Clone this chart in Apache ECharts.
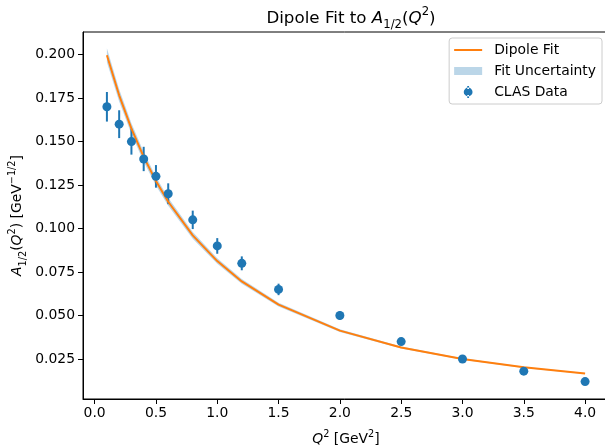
<!DOCTYPE html>
<html>
<head>
<meta charset="utf-8">
<script src="https://cdn.jsdelivr.net/npm/echarts@6/dist/echarts.min.js"></script>
<style>html,body{margin:0;padding:0;background:#fff;}#chart{width:605px;height:448px;}</style>
</head>
<body>
<div id="chart"></div>
<script>
// Q^2 values (GeV^2)
const q2 = [0.1, 0.2, 0.3, 0.4, 0.5, 0.6, 0.8, 1.0, 1.2, 1.5, 2.0, 2.5, 3.0, 3.5, 4.0];
// CLAS data and errors
const clasY = [0.170, 0.160, 0.150, 0.140, 0.130, 0.120, 0.105, 0.090, 0.080, 0.065, 0.050, 0.035, 0.025, 0.018, 0.012];
const clasErr = [0.0085, 0.0080, 0.0075, 0.0070, 0.0065, 0.0060, 0.0053, 0.0045, 0.0040, 0.0033, 0.0025, 0.0018, 0.0013, 0.0009, 0.0006];
// Dipole fit curve values
const fitY = [0.1996, 0.1766, 0.1574, 0.1412, 0.1273, 0.1154, 0.0961, 0.0813, 0.0696, 0.0563, 0.0413, 0.0316, 0.0250, 0.0202, 0.0167];
// Fit uncertainty band
const bandLow = [0.1956, 0.1731, 0.1543, 0.1384, 0.1248, 0.1131, 0.0942, 0.0797, 0.0682, 0.0552, 0.0405, 0.0310, 0.0245, 0.0198, 0.0164];
const bandHigh = [0.2036, 0.1801, 0.1605, 0.1440, 0.1298, 0.1177, 0.0980, 0.0829, 0.0710, 0.0574, 0.0421, 0.0322, 0.0255, 0.0206, 0.0170];
// Tick labels
const xTicks = [0.0, 0.5, 1.0, 1.5, 2.0, 2.5, 3.0, 3.5, 4.0];
const yTicks = [0.025, 0.050, 0.075, 0.100, 0.125, 0.150, 0.175, 0.200];

const FONT = 'DejaVu Sans';
const BLUE = '#1f77b4';
const ORANGE = '#ff7f0e';
const BAND = 'rgba(31,119,180,0.3)';
const ANCHORS = 'M0,0L0.01,0L0,0.01Z M28,14L27.99,14L28,13.99Z ';

const chart = echarts.init(document.getElementById('chart'), null, {renderer: 'canvas'});

const mathRich = (base) => {
  const small = base * 0.7;
  return {
    n: {fontFamily: FONT, fontSize: base, color: '#000', lineHeight: base * 1.6},
    i: {fontFamily: FONT, fontSize: base, fontStyle: 'italic', color: '#000', lineHeight: base * 1.6},
    sub: {fontFamily: FONT, fontSize: small, color: '#000', verticalAlign: 'bottom', lineHeight: small, padding: [0, 0, 1, 0]},
    sup: {fontFamily: FONT, fontSize: small, color: '#000', verticalAlign: 'top', lineHeight: small, padding: [1, 0, 0, 0]}
  };
};

const option = {
  animation: false,
  backgroundColor: '#fff',
  title: {
    text: '{n|Dipole Fit to }{i|A}{sub|1/2}{n|(}{i|Q}{sup|2}{n|)}',
    left: 346,
    textAlign: 'center',
    top: 0,
    textStyle: {fontFamily: FONT, fontSize: 16.7, fontWeight: 'normal', color: '#000', rich: mathRich(16.7)}
  },
  grid: {left: 83, right: -4, top: 32, bottom: 49, show: true, borderColor: '#000', borderWidth: 1, backgroundColor: 'transparent', containLabel: false, outerBoundsMode: 'none'},
  legend: {
    orient: 'vertical',
    right: 3,
    top: 38,
    itemWidth: 28,
    itemHeight: 14,
    itemGap: 7,
    padding: [5, 6, 5, 5],
    backgroundColor: 'rgba(255,255,255,0.8)',
    borderColor: '#cccccc',
    borderWidth: 1,
    borderRadius: 3,
    textStyle: {fontFamily: FONT, fontSize: 13.9, color: '#000', padding: [0, 0, 0, 7]},
    data: [
      {name: 'Dipole Fit', icon: 'path://' + ANCHORS + 'M0,6H28V8H0Z', itemStyle: {color: ORANGE}},
      {name: 'Fit Uncertainty', icon: 'path://' + ANCHORS + 'M0,3H28V11H0Z', itemStyle: {color: BAND}},
      {name: 'CLAS Data', icon: 'path://' + ANCHORS + 'M13.1,1H14.9V4H13.1Z M13.1,10H14.9V13H13.1Z M9.6,7A4.4,4.4 0 1,0 18.4,7A4.4,4.4 0 1,0 9.6,7Z', itemStyle: {color: BLUE}}
    ]
  },
  xAxis: {
    type: 'value',
    min: -0.095,
    max: 4.195,
    name: '{i|Q}{sup|2}{n| [GeV}{sup|2}{n|]}',
    nameLocation: 'middle',
    nameGap: 29,
    nameMoveOverlap: false,
    nameTextStyle: {fontFamily: FONT, fontSize: 13.9, color: '#000', rich: mathRich(13.9)},
    axisLine: {show: true, onZero: false, lineStyle: {color: '#000', width: 1}},
    axisTick: {show: true, length: 5, inside: false, lineStyle: {color: '#000', width: 1}, customValues: xTicks},
    axisLabel: {show: true, margin: 7, fontFamily: FONT, fontSize: 13.9, color: '#000', customValues: xTicks, formatter: v => v.toFixed(1)},
    splitLine: {show: false}
  },
  yAxis: {
    type: 'value',
    min: 0.002,
    max: 0.213,
    name: '{i|A}{sub|1/2}{n|(}{i|Q}{sup|2}{n|) [GeV}{sup|−1/2}{n|]}',
    nameLocation: 'middle',
    nameGap: 54,
    nameMoveOverlap: false,
    nameTextStyle: {fontFamily: FONT, fontSize: 13.9, color: '#000', rich: mathRich(13.9)},
    axisLine: {show: true, onZero: false, lineStyle: {color: '#000', width: 1}},
    axisTick: {show: true, length: 5, inside: false, lineStyle: {color: '#000', width: 1}, customValues: yTicks},
    axisLabel: {show: true, margin: 8, fontFamily: FONT, fontSize: 13.9, color: '#000', customValues: yTicks, formatter: v => v.toFixed(3)},
    splitLine: {show: false}
  },
  series: [
    {
      name: 'Fit Uncertainty',
      type: 'custom',
      z: 1,
      itemStyle: {color: BAND},
      data: q2.map((x, i) => [x, bandLow[i], bandHigh[i]]),
      encode: {x: 0, y: [1, 2]},
      renderItem: function (params, api) {
        if (params.dataIndex !== 0) return null;
        const pts = [];
        for (let i = 0; i < q2.length; i++) pts.push(api.coord([q2[i], bandHigh[i]]));
        for (let i = q2.length - 1; i >= 0; i--) pts.push(api.coord([q2[i], bandLow[i]]));
        return {type: 'polygon', shape: {points: pts}, style: {fill: BAND}};
      }
    },
    {
      name: 'CLAS Data',
      type: 'custom',
      z: 2,
      itemStyle: {color: BLUE},
      data: q2.map((x, i) => [x, clasY[i] - clasErr[i], clasY[i] + clasErr[i]]),
      encode: {x: 0, y: [1, 2]},
      renderItem: function (params, api) {
        const p1 = api.coord([api.value(0), api.value(1)]);
        const p2 = api.coord([api.value(0), api.value(2)]);
        return {type: 'line', shape: {x1: p1[0], y1: p1[1], x2: p2[0], y2: p2[1]}, style: {stroke: BLUE, lineWidth: 2}};
      }
    },
    {
      name: 'Dipole Fit',
      type: 'line',
      z: 3,
      symbol: 'none',
      color: ORANGE,
      lineStyle: {color: ORANGE, width: 2},
      data: q2.map((x, i) => [x, fitY[i]])
    },
    {
      name: 'CLAS Data',
      type: 'scatter',
      z: 4,
      symbol: 'circle',
      symbolSize: 9,
      itemStyle: {color: BLUE, opacity: 1},
      data: q2.map((x, i) => [x, clasY[i]])
    }
  ]
};
chart.setOption(option);
</script>
</body>
</html>
